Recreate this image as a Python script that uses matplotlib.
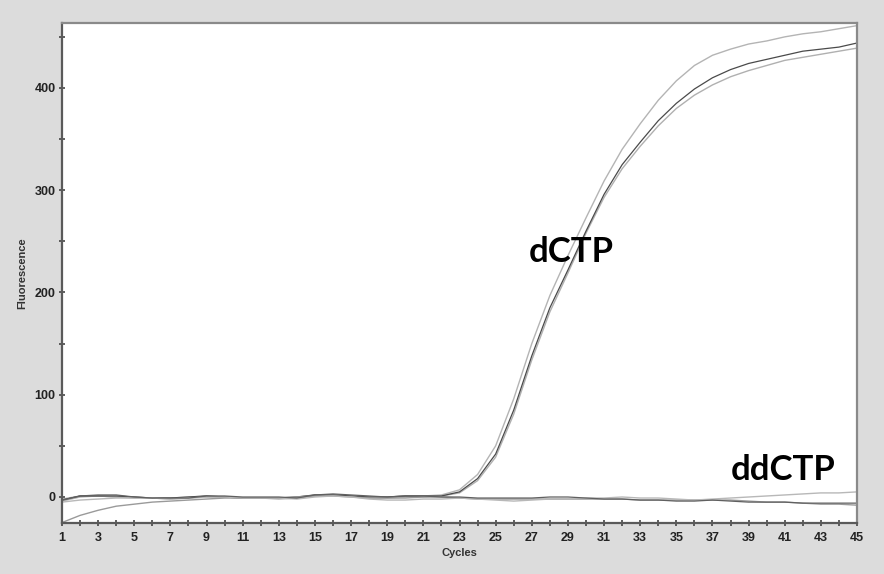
import matplotlib
matplotlib.use("Agg")
import matplotlib.pyplot as plt
from matplotlib.font_manager import FontProperties
from matplotlib.ticker import MultipleLocator

cycles = list(range(1, 46))

# dCTP replicates (amplify)
dctp_a = [-2, 1, 1, 0, 0, -1, -1, 0, 1, 0, -1, -1, -1, 0, 2, 2, 1, 0, 0, 1, 1, 2,
          7, 22, 50, 96, 150, 197, 236, 273, 309, 340, 365, 388, 407, 422, 432, 438, 443,
          446, 450, 453, 455, 458, 461]
dctp_b = [-3, 1, 1, 1, 0, -1, -1, 0, 1, 0, -1, -1, -1, 0, 2, 2, 1, 0, 0, 1, 1, 1,
          5, 18, 42, 85, 138, 185, 222, 260, 296, 325, 347, 368, 385, 399, 410, 418, 424,
          428, 432, 436, 438, 440, 444]
dctp_c = [-4, 0, 1, 0, -1, -1, -2, -1, 0, 0, -1, -1, -2, -1, 1, 2, 1, -1, -1, 0, 0, 1,
          4, 16, 39, 81, 134, 181, 219, 258, 293, 321, 343, 363, 380, 393, 403, 411, 417,
          422, 427, 430, 433, 436, 439]

# ddCTP replicates (no amplification)
ddctp_d = [-25, -18, -13, -9, -7, -5, -4, -3, -2, -1, -1, -1, -1, 0, 1, 1, 0, -1, -1, -1, 0, 0,
           -1, -2, -2, -2, -2, -2, -2, -2, -2, -2, -3, -3, -3, -3, -3, -3, -4, -5, -5, -6, -7, -7, -8]
ddctp_e = [-5, -3, -2, -1, -1, -1, -2, -1, 0, 0, -1, -1, -1, -2, 0, 1, 0, -2, -3, -3, -2, -2,
           -1, -2, -3, -4, -3, -2, -2, -1, -1, 0, -1, -1, -2, -3, -2, -1, 0, 1, 2, 3, 4, 4, 5]
ddctp_f = [-3, 1, 2, 2, 0, -1, -1, -1, 1, 1, 0, 0, 0, -1, 2, 3, 2, 1, 0, 1, 1, 0,
           0, -1, -1, -1, -1, 0, 0, -1, -2, -2, -3, -3, -4, -4, -3, -4, -5, -5, -5, -6, -6, -6, -6]

x_labels = [str(c) for c in range(1, 46, 2)]

BG = "#dcdcdc"
fig = plt.figure(figsize=(8.84, 5.74), dpi=100, facecolor=BG)
ax = fig.add_axes([0.0701, 0.0889, 0.8994, 0.8711])
ax.set_facecolor("white")

ax.plot(cycles, dctp_a, color="#b4b4b4", lw=1.0)
ax.plot(cycles, dctp_c, color="#b0b0b0", lw=1.0)
ax.plot(cycles, dctp_b, color="#4a4a4a", lw=0.9)
ax.plot(cycles, ddctp_d, color="#9a9a9a", lw=1.0)
ax.plot(cycles, ddctp_e, color="#b8b8b8", lw=1.0)
ax.plot(cycles, ddctp_f, color="#606060", lw=0.9)

ax.set_xlim(1, 45)
ax.set_ylim(-25.4, 463.6)
ax.set_xticks(range(1, 46, 2))
ax.set_xticklabels(x_labels)
ax.xaxis.set_minor_locator(MultipleLocator(1))
ax.set_yticks([0, 100, 200, 300, 400])
ax.yaxis.set_minor_locator(MultipleLocator(50))

tick_font = FontProperties(family="Liberation Sans", size=9, weight="bold")
for lab in ax.get_xticklabels() + ax.get_yticklabels():
    lab.set_fontproperties(tick_font)
    lab.set_color("#222222")
ax.tick_params(which="both", direction="inout", color="#444444", width=1.2)
ax.tick_params(which="major", length=5, pad=2)
ax.tick_params(which="minor", length=5)
ax.tick_params(axis="x", which="major", pad=4)

for side in ("left", "bottom"):
    ax.spines[side].set_color("#5a5a5a")
    ax.spines[side].set_linewidth(1.6)
for side in ("top", "right"):
    ax.spines[side].set_color("#8a8a8a")
    ax.spines[side].set_linewidth(1.6)

ax.set_xlabel("Cycles", family="Liberation Sans", size=8, weight="bold", color="#333333", labelpad=3)
ax.set_ylabel("Fluorescence", family="Liberation Sans", size=8, weight="bold", color="#333333", labelpad=5)

ax.text(29.2, 240, "dCTP", family="Lato", weight="bold", size=25, ha="center", va="center", color="black")
ax.text(40.9, 26, "ddCTP", family="Lato", weight="bold", size=25, ha="center", va="center", color="black")

fig.savefig("out.png", dpi=100, facecolor=BG)
